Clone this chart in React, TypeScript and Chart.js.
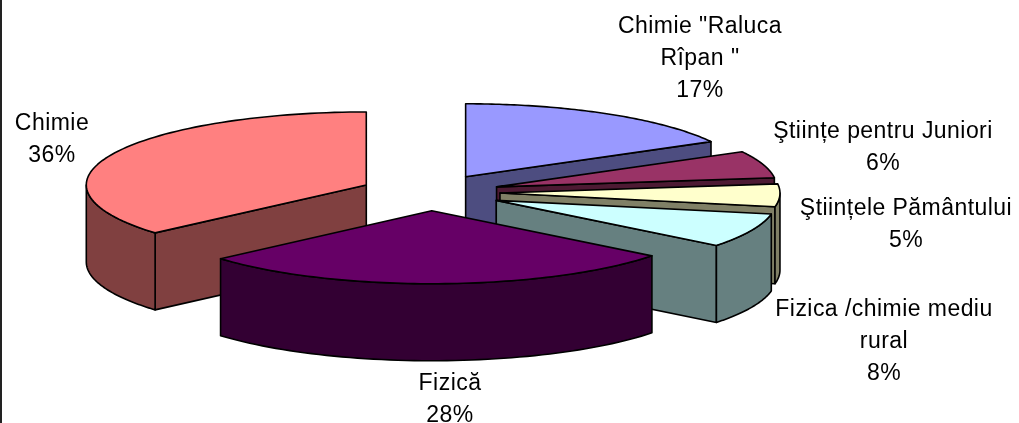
import React, { useEffect, useRef } from "react";
import { Chart, registerables } from "chart.js";

Chart.register(...registerables);

const categories = [
  'Chimie "Raluca Rîpan "',
  "Ştiințe pentru Juniori",
  "Ştiințele Pământului",
  "Fizica /chimie mediu rural",
  "Fizică",
  "Chimie",
];
const values = [17, 6, 5, 7.6, 28, 36.4];
const topColors = ["#9999FF", "#993366", "#FFFFCC", "#CCFFFF", "#660066", "#FF8080"];
const sideColors = ["#4D4D80", "#4D1A33", "#808066", "#668080", "#330033", "#804040"];
const paintOrder = [0, 1, 2, 3, 5, 4];

const W = 1019;
const H = 423;
const CENTER = { x: 430, y: 192.5 };
const RX = 280;
const RY = 73;
const DEPTH = 77;
const explode = [0.25, 0.25, 0.25, 0.26, 0.25, 0.25];
const FONT = '23px "Liberation Sans", Arial, sans-serif';
const labelLayout = [
  { x: 700, y: 33, wrap: 190 },
  { x: 883, y: 138, wrap: 300 },
  { x: 906, y: 215, wrap: 300 },
  { x: 884, y: 316, wrap: 235 },
  { x: 450, y: 390, wrap: 200 },
  { x: 52, y: 130, wrap: 200 },
];
const LINE = 32;

function wrapText(ctx: CanvasRenderingContext2D, text: string, width: number) {
  const out: string[] = [];
  let cur = "";
  for (const w of text.split(" ")) {
    const t = cur ? cur + " " + w : w;
    if (cur && ctx.measureText(t).width > width) {
      out.push(cur);
      cur = w;
    } else cur = t;
  }
  if (cur) out.push(cur);
  return out;
}

const pie3d = {
  id: "pie3d",
  beforeDatasetDraw(chart: any) {
    const ctx: CanvasRenderingContext2D = chart.ctx;
    const arcs = chart.getDatasetMeta(0).data;
    ctx.save();
    ctx.lineWidth = 1.6;
    ctx.lineJoin = "round";
    ctx.strokeStyle = "#000";
    paintOrder.forEach((i) => {
      const arc = arcs[i];
      const R = arc.outerRadius;
      const sx = RX / R;
      const sy = RY / R;
      const a0 = arc.startAngle;
      const a1 = arc.endAngle;
      const mid = (a0 + a1) / 2;
      const ax = CENTER.x + Math.cos(mid) * RX * explode[i];
      const ay = CENTER.y + Math.sin(mid) * RY * explode[i];
      const pt = (a: number, dy = 0): [number, number] => [
        ax + Math.cos(a) * RX,
        ay + Math.sin(a) * RY + dy,
      ];
      const face = (pts: [number, number][]) => {
        ctx.beginPath();
        pts.forEach((p, k) => (k ? ctx.lineTo(p[0], p[1]) : ctx.moveTo(p[0], p[1])));
        ctx.closePath();
        ctx.fillStyle = sideColors[i];
        ctx.fill();
        ctx.stroke();
      };
      // cut faces that turn towards the viewer
      if (Math.sin(a0 + Math.PI / 2) < 0) {
        face([[ax, ay], pt(a0), pt(a0, DEPTH), [ax, ay + DEPTH]]);
      }
      if (Math.sin(a1 + Math.PI / 2) > 0) {
        face([[ax, ay], pt(a1), pt(a1, DEPTH), [ax, ay + DEPTH]]);
      }
      // outer wall, front half only
      const w0 = Math.max(a0, 0);
      const w1 = Math.min(a1, Math.PI);
      if (w1 > w0) {
        const top: [number, number][] = [];
        const bot: [number, number][] = [];
        for (let k = 0; k <= 60; k++) {
          const a = w0 + ((w1 - w0) * k) / 60;
          top.push(pt(a));
          bot.unshift(pt(a, DEPTH));
        }
        face([...top, ...bot]);
      }
      // top surface: the library's own arc element, projected
      ctx.save();
      ctx.translate(ax, ay);
      ctx.scale(sx, sy);
      ctx.translate(-arc.x, -arc.y);
      arc.draw(ctx);
      ctx.restore();
      ctx.beginPath();
      ctx.moveTo(ax, ay);
      for (let k = 0; k <= 80; k++) {
        const p = pt(a0 + ((a1 - a0) * k) / 80);
        ctx.lineTo(p[0], p[1]);
      }
      ctx.closePath();
      ctx.stroke();
    });
    ctx.restore();
    return false;
  },
  afterDraw(chart: any) {
    const ctx: CanvasRenderingContext2D = chart.ctx;
    ctx.save();
    ctx.font = FONT;
    (ctx as any).letterSpacing = "0.45px";
    ctx.fillStyle = "#000";
    ctx.textAlign = "center";
    ctx.textBaseline = "alphabetic";
    categories.forEach((name, i) => {
      const l = labelLayout[i];
      const lines = [...wrapText(ctx, name, l.wrap), `${Math.round(values[i])}%`];
      lines.forEach((t, k) => ctx.fillText(t, l.x, l.y + k * LINE));
    });
    ctx.restore();
  },
};

export default function App() {
  const ref = useRef<HTMLCanvasElement>(null);
  useEffect(() => {
    const chart = new Chart(ref.current!, {
      type: "pie",
      data: {
        labels: categories,
        datasets: [{ data: values, backgroundColor: topColors, borderWidth: 0 }],
      },
      options: {
        animation: false,
        responsive: false,
        devicePixelRatio: 1,
        rotation: 0,
        layout: { padding: 0 },
        plugins: { legend: { display: false }, tooltip: { enabled: false } },
      },
      plugins: [pie3d],
    } as any);
    return () => chart.destroy();
  }, []);
  return (
    <div style={{ position: "fixed", left: 0, top: 0, width: W, height: H, background: "#fff", overflow: "hidden" }}>
      <canvas ref={ref} width={W} height={H} style={{ display: "block", width: W, height: H }} />
      <div style={{ position: "absolute", left: 0, top: 0, width: 2, height: H, background: "#222" }} />
    </div>
  );
}
